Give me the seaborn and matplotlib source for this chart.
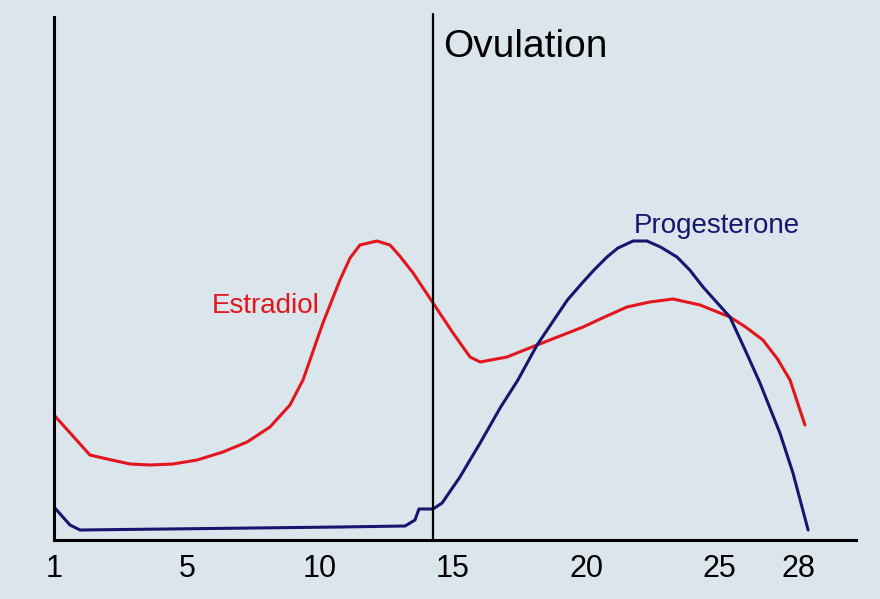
import matplotlib
matplotlib.use('Agg')
import matplotlib.pyplot as plt
import pandas as pd
import seaborn as sns

# Cycle day (axis position, tick "1" sits at 0) and relative hormone level
estradiol_day = [0.0, 1.35, 2.0, 2.86, 3.6, 4.47, 5.38, 6.35, 7.26, 8.12, 8.87, 9.36,
                 10.11, 10.75, 11.13, 11.50, 12.14, 12.63, 13.0, 13.50, 14.25, 15.0,
                 15.64, 16.02, 17.03, 18.16, 19.89, 20.7, 21.54, 22.4, 23.27, 24.29,
                 25.41, 26.0, 26.65, 27.2, 27.67, 28.23]
estradiol_level = [125, 85, 81, 76, 75, 76, 80, 88, 98, 113, 135, 160,
                   217, 260, 282, 295, 299, 295, 284, 267, 237, 207,
                   183, 178, 183, 195, 213, 223, 233, 238, 241, 235,
                   223, 213, 200, 181, 160, 115]

progesterone_day = [0.0, 0.60, 0.98, 10.75, 13.2, 13.57, 13.72, 14.25, 14.59, 15.26,
                    16.02, 16.77, 17.44, 18.16, 19.3, 19.89, 20.3, 20.79, 21.2, 21.77,
                    22.29, 22.8, 23.42, 23.9, 24.40, 25.41, 26.0, 26.54, 27.29, 27.78,
                    28.35]
progesterone_level = [33, 15, 10, 13, 14, 20, 31, 31, 37, 63,
                      97, 132, 160, 195, 240, 258, 270, 283, 292, 299,
                      299, 293, 283, 270, 253, 223, 189, 157, 107, 67,
                      10]

tick_pos = [0, 5, 10, 15, 20, 25, 28]
tick_labels = ['1', '5', '10', '15', '20', '25', '28']
ovulation_day = 14.25

BG = '#dbe5ec'
RED = '#e3161e'
NAVY = '#16166e'

sns.set_theme(style='white')
plt.rcParams['font.family'] = ['Liberation Sans', 'DejaVu Sans']

est = pd.DataFrame({'day': estradiol_day, 'level': estradiol_level})
prog = pd.DataFrame({'day': progesterone_day, 'level': progesterone_level})

fig = plt.figure(figsize=(8.8, 5.99), dpi=100, facecolor=BG)
ax = fig.add_axes([54 / 880, 59 / 599, 802 / 880, 523 / 599])
ax.set_facecolor(BG)

sns.lineplot(data=est, x='day', y='level', sort=False, color=RED, lw=2.2, ax=ax)
sns.lineplot(data=prog, x='day', y='level', sort=False, color=NAVY, lw=2.2, ax=ax)

ax.plot([ovulation_day, ovulation_day], [0, 526], color='black', lw=1.6, clip_on=False)

ax.set_xlim(0, 30.15)
ax.set_ylim(0, 523)
ax.set_xticks(tick_pos)
ax.set_xticklabels(tick_labels)
ax.set_yticks([])
ax.set_xlabel('')
ax.set_ylabel('')
ax.tick_params(axis='x', length=0, labelsize=22, pad=10, colors='black')
for s in ['top', 'right']:
    ax.spines[s].set_visible(False)
for s in ['left', 'bottom']:
    ax.spines[s].set_color('black')
    ax.spines[s].set_linewidth(2.2)

ax.text(14.62, 483, 'Ovulation', fontsize=28, color='black', ha='left', va='baseline')
ax.text(7.97, 234, 'Estradiol', fontsize=20, color=RED, ha='center', va='center')
ax.text(24.9, 307, 'Progesterone', fontsize=20, color=NAVY, ha='center', va='baseline')

fig.savefig('out.png', dpi=100, facecolor=BG)
plt.close()
